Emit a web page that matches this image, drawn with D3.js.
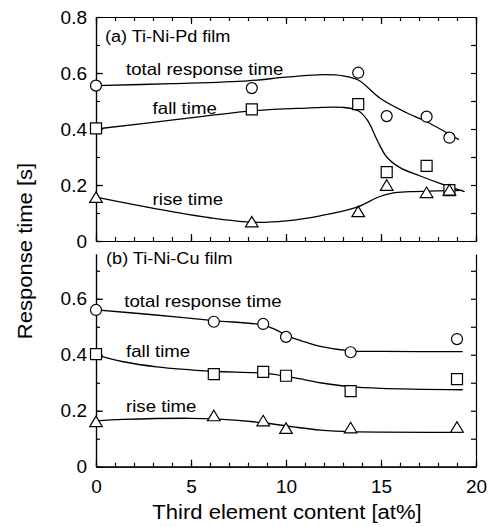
<!DOCTYPE html>
<html>
<head>
<meta charset="utf-8">
<script src="https://cdn.jsdelivr.net/npm/d3@7"></script>
<style>
  body { margin: 0; background: #fff; }
  svg text { font-family: "Liberation Sans", Arial, sans-serif; fill: #000; }
</style>
</head>
<body>
<script>
// Measured points, panel (a) Ti-Ni-Pd film
var xA     = [0, 8.2, 13.8, 15.3, 17.4, 18.6];
var totalA = [0.555, 0.546, 0.601, 0.446, 0.444, 0.369];
var fallA  = [0.402, 0.470, 0.489, 0.246, 0.268, 0.182];
var riseA  = [0.156, 0.068, 0.105, 0.199, 0.173, 0.182];

// Measured points, panel (b) Ti-Ni-Cu film
var xB     = [0, 6.2, 8.8, 10.0, 13.4, 19.0];
var totalB = [0.560, 0.518, 0.510, 0.464, 0.409, 0.456];
var fallB  = [0.402, 0.331, 0.339, 0.325, 0.270, 0.313];
var riseB  = [0.161, 0.182, 0.164, 0.137, 0.139, 0.141];

// Guide curves drawn through the data
var fitTotalAx = [0, 4, 8, 10, 12, 13, 13.8, 14.95, 16.35, 17.4, 19.1];
var fitTotalAy = [0.555, 0.562, 0.572, 0.585, 0.594, 0.590, 0.575, 0.510, 0.458, 0.426, 0.362];
var fitFallAx  = [0, 4.4, 8.2, 10.7, 13, 13.8, 14.3, 14.8, 15.3, 16, 17, 18.1, 19.4];
var fitFallAy  = [0.400, 0.435, 0.465, 0.474, 0.477, 0.465, 0.430, 0.360, 0.300, 0.262, 0.234, 0.206, 0.176];
var fitRiseAx  = [0, 2, 4, 6, 8.3, 10, 11.8, 13.7, 14.9, 15.6, 16.5, 19.3];
var fitRiseAy  = [0.157, 0.130, 0.105, 0.083, 0.067, 0.072, 0.090, 0.120, 0.158, 0.171, 0.176, 0.181];

var fitTotalBx = [0, 3, 6.2, 8.8, 9.5, 10.2, 11, 11.8, 13.4, 15.1, 19.3];
var fitTotalBy = [0.560, 0.543, 0.522, 0.506, 0.488, 0.464, 0.446, 0.430, 0.414, 0.412, 0.411];
var fitFallBx  = [0, 1.44, 3.2, 6.2, 8.8, 10.4, 11.8, 13.4, 15, 19.3];
var fitFallBy  = [0.400, 0.375, 0.357, 0.341, 0.334, 0.318, 0.300, 0.286, 0.280, 0.275];
var fitRiseBx  = [0, 1.44, 4.95, 6.2, 8.8, 10.4, 11.8, 13.4, 19.3];
var fitRiseBy  = [0.164, 0.169, 0.173, 0.171, 0.157, 0.142, 0.131, 0.125, 0.123];

// Tick values and texts
var xMajor = [0, 5, 10, 15, 20];
var yMajorA = [0, 0.2, 0.4, 0.6, 0.8];
var yMajorB = [0, 0.2, 0.4, 0.6];
var seriesNames = ["total response time", "fall time", "rise time"];
var panelNames = ["(a) Ti-Ni-Pd film", "(b) Ti-Ni-Cu film"];
var xTitle = "Third element content [at%]";
var yTitle = "Response time [s]";

// Layout
var W = 495, H = 527;
var left = 96, right = 476;
var SX = 1.13; // text in the figure is drawn a bit wide

var svg = d3.select('body').append('svg')
    .attr('width', W)
    .attr('height', H);

var x = d3.scaleLinear().domain([0, 20]).range([left, right]);
var yA = d3.scaleLinear().domain([0, 0.8]).range([241, 17]);
var yB = d3.scaleLinear().domain([0, 0.76]).range([466.7, 254]);

function range(a, b, step){
    var out = [];
    for (var v = a; v <= b + 1e-9; v += step) out.push(+v.toFixed(2));
    return out;
}

function styleAxis(g){
    g.selectAll('path, line').attr('stroke', '#000').attr('stroke-width', 1.2);
    g.selectAll('text').attr('font-size', 19)
        .attr('font-family', '"Liberation Sans", Arial, sans-serif');
}

/* Draws the frame and ticks of one panel */
function drawFrame(y, yMajor, hasTop, showXLabels){
    var y0 = y.range()[0], y1 = y.range()[1];
    var yTop = y.domain()[1];
    var yMinor = range(0, yTop, 0.1).filter(function(v){ return v < yTop - 1e-6; });

    // bottom
    svg.append('g').attr('transform', 'translate(0,' + y0 + ')')
        .call(d3.axisBottom(x).tickValues(range(0, 20, 1)).tickSizeInner(-4).tickSizeOuter(0).tickFormat(''))
        .call(styleAxis);
    svg.append('g').attr('transform', 'translate(0,' + y0 + ')')
        .call(d3.axisBottom(x).tickValues(xMajor).tickSizeInner(-7).tickSizeOuter(0).tickPadding(13)
            .tickFormat(showXLabels ? d3.format('d') : ''))
        .call(styleAxis);
    if (hasTop){
        svg.append('g').attr('transform', 'translate(0,' + y1 + ')')
            .call(d3.axisTop(x).tickValues(range(0, 20, 1)).tickSizeInner(-4).tickSizeOuter(0).tickFormat(''))
            .call(styleAxis);
        svg.append('g').attr('transform', 'translate(0,' + y1 + ')')
            .call(d3.axisTop(x).tickValues(xMajor).tickSizeInner(-7).tickSizeOuter(0).tickFormat(''))
            .call(styleAxis);
    }
    // left
    svg.append('g').attr('transform', 'translate(' + left + ',0)')
        .call(d3.axisLeft(y).tickValues(yMinor).tickSizeInner(-4).tickSizeOuter(0).tickFormat(''))
        .call(styleAxis);
    svg.append('g').attr('transform', 'translate(' + left + ',0)')
        .call(d3.axisLeft(y).tickValues(yMajor).tickSizeInner(-7).tickSizeOuter(0).tickPadding(9)
            .tickFormat(function(d){ return d === 0 ? '0' : d3.format('.1f')(d); }))
        .call(styleAxis);
    // right
    svg.append('g').attr('transform', 'translate(' + right + ',0)')
        .call(d3.axisRight(y).tickValues(yMinor).tickSizeInner(-5).tickSizeOuter(0).tickFormat(''))
        .call(styleAxis);
}

function zip(xs, ys){
    return xs.map(function(v, i){ return [v, ys[i]]; });
}

/* Draws one panel's curves and markers */
function drawPanel(y, xs, series, fits){
    var line = d3.line()
        .x(function(d){ return x(d[0]); })
        .y(function(d){ return y(d[1]); })
        .curve(d3.curveCatmullRom.alpha(0.5));

    svg.append('g').selectAll('path')
        .data(fits)
        .enter().append('path')
        .attr('d', line)
        .attr('fill', 'none')
        .attr('stroke', '#000')
        .attr('stroke-width', 1.3);

    var shapes = ['circle', 'square', 'triangle'];
    series.forEach(function(vals, k){
        var g = svg.append('g');
        var pts = zip(xs, vals);
        var sel = g.selectAll('path').data(pts).enter().append('path')
            .attr('fill', '#fff')
            .attr('stroke', '#000')
            .attr('stroke-width', 1.2)
            .attr('transform', function(d){ return 'translate(' + x(d[0]) + ',' + y(d[1]) + ')'; });
        if (shapes[k] === 'circle') sel.attr('d', 'M5.5,0A5.5,5.5 0 1,1 -5.5,0A5.5,5.5 0 1,1 5.5,0Z');
        if (shapes[k] === 'square') sel.attr('d', 'M-5.5,-5.5H5.5V5.5H-5.5Z');
        if (shapes[k] === 'triangle') sel.attr('d', 'M0,-5.5L6.3,5L-6.3,5Z');
    });
}

/* Text helper, slightly widened like the original lettering */
function label(px, py, txt, size, anchor, rot){
    svg.append('text')
        .attr('transform', 'translate(' + px + ',' + py + ')' + (rot ? ' rotate(' + rot + ')' : '') + ' scale(' + SX + ',1)')
        .attr('text-anchor', anchor || 'start')
        .attr('font-size', size)
        .text(txt);
}

// Panel (a)
drawFrame(yA, yMajorA, true, false);
drawPanel(yA, xA, [totalA, fallA, riseA],
    [zip(fitTotalAx, fitTotalAy), zip(fitFallAx, fitFallAy), zip(fitRiseAx, fitRiseAy)]);

// Panel (b)
drawFrame(yB, yMajorB, false, true);
drawPanel(yB, xB, [totalB, fallB, riseB],
    [zip(fitTotalBx, fitTotalBy), zip(fitFallBx, fitFallBy), zip(fitRiseBx, fitRiseBy)]);

// Annotations: [x, y] in data units
var annA = [[1.58, 0.593], [2.98, 0.454], [2.98, 0.129]];
var annB = [[1.49, 0.571], [1.58, 0.391], [1.58, 0.196]];
seriesNames.forEach(function(n, i){
    label(x(annA[i][0]), yA(annA[i][1]), n, 16.5);
    label(x(annB[i][0]), yB(annB[i][1]), n, 16.5);
});
label(x(0.47), yA(0.712), panelNames[0], 16);
label(x(0.53), yB(0.726), panelNames[1], 16);

// Axis titles
label((left + right) / 2 + 1, 519, xTitle, 19.5, 'middle');
label(32, 251, yTitle, 19.5, 'middle', -90);
</script>
</body>
</html>
